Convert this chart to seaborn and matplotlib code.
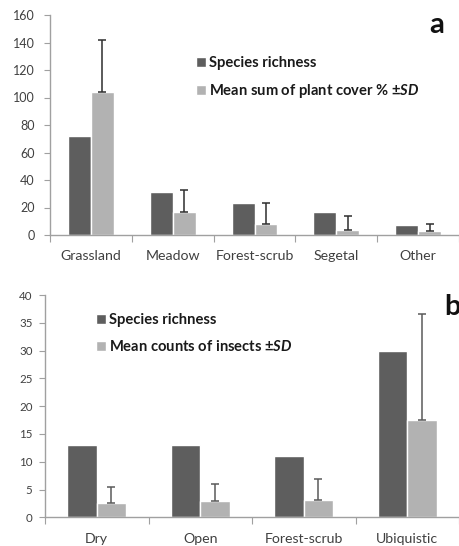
import numpy as np
import pandas as pd
import matplotlib
matplotlib.use("Agg")
import matplotlib.pyplot as plt
import seaborn as sns

# Panel a: plant community groups
cats_a = ["Grassland", "Meadow", "Forest-scrub", "Segetal", "Other"]
richness_a = [72, 31, 23, 17, 7]
cover_mean_a = [104, 17, 8, 4, 3]
cover_sd_a = [37.5, 15.5, 15, 10, 5]

# Panel b: insect habitat groups
cats_b = ["Dry", "Open", "Forest-scrub", "Ubiquistic"]
richness_b = [13, 13, 11, 30]
count_mean_b = [2.5, 2.9, 3.2, 17.5]
count_sd_b = [2.9, 3.1, 3.7, 19]

series_a = ["Species richness", "Mean sum of plant cover % ±$\\mathbfit{SD}$"]
series_b = ["Species richness", "Mean counts of insects ±$\\mathbfit{SD}$"]

sns.set_style("white")
FONT = "Lato"
plt.rcParams["font.family"] = [FONT, "DejaVu Sans"]
plt.rcParams["mathtext.fontset"] = "custom"
plt.rcParams["mathtext.bfit"] = f"{FONT}:bold:italic"
plt.rcParams["mathtext.rm"] = FONT

DARK = "#5e5e5e"
LIGHT = "#b2b2b2"
AXC = "#a0a0a0"
TXT = "#404040"

fig = plt.figure(figsize=(4.59, 5.46), dpi=100)
ax_a = fig.add_axes([50 / 459, 1 - 235 / 546, 1 - 50 / 459, (235 - 15) / 546])
ax_b = fig.add_axes([45 / 459, 1 - 517.3 / 546, 1 - 45 / 459, (517.3 - 295) / 546])


def draw_panel(ax, cats, rich, mean, sd, names, ymax, ystep, width, ecolor,
               ytick_size, ytick_pad, leg_anchor, letter, letter_xy):
    df = pd.DataFrame({
        "group": cats * 2,
        "series": [names[0]] * len(cats) + [names[1]] * len(cats),
        "value": list(rich) + list(mean),
    })
    sns.barplot(data=df, x="group", y="value", hue="series",
                palette=[DARK, LIGHT], width=width, errorbar=None,
                saturation=1, ax=ax, legend=True)
    # upward SD whiskers on the second series
    light_bars = ax.patches[len(cats):2 * len(cats)]
    for bar, m, s in zip(light_bars, mean, sd):
        xc = bar.get_x() + bar.get_width() / 2
        ax.errorbar(xc, m, yerr=[[0], [s]], fmt="none", ecolor=ecolor,
                    elinewidth=1.1, capsize=2.8, capthick=1.1, zorder=3)
    ax.set_ylim(0, ymax)
    ax.set_xlim(-0.5, len(cats) - 0.5)
    ax.set_yticks(np.arange(0, ymax + 0.1, ystep))
    ax.set_xticks(np.arange(len(cats)))
    ax.set_xticks(np.arange(-0.5, len(cats), 1), minor=True)
    ax.set_xlabel("")
    ax.set_ylabel("")
    for side in ("top", "right"):
        ax.spines[side].set_visible(False)
    for side in ("left", "bottom"):
        ax.spines[side].set_color(AXC)
        ax.spines[side].set_linewidth(1.0)
    ax.tick_params(axis="y", direction="out", length=4, width=0.8, color=AXC,
                   labelsize=ytick_size, labelcolor=TXT, pad=ytick_pad,
                   left=True)
    ax.tick_params(axis="x", which="major", length=0, labelsize=10.2,
                   labelcolor=TXT, pad=11)
    ax.tick_params(axis="x", which="minor", direction="out", length=5,
                   width=0.8, color=AXC, bottom=True)
    handles, labels = ax.get_legend_handles_labels()
    ax.legend(handles, labels, loc="upper left", bbox_to_anchor=leg_anchor,
              frameon=False, handlelength=0.7, handleheight=0.7,
              handletextpad=0.2, labelspacing=0.85,
              prop={"family": FONT, "weight": "bold", "size": 10.6},
              labelcolor="#1a1a1a", borderaxespad=0)
    fig.text(letter_xy[0], letter_xy[1], letter, fontsize=21,
             fontweight="bold", ha="left", va="top", color="#111111",
             family=FONT)


draw_panel(ax_a, cats_a, richness_a, cover_mean_a, cover_sd_a, series_a,
           160, 20, 0.56, "#2e2e2e", 9, 7,
           ((190 - 50) / 409, (235 - 50) / 220),
           "a", (429 / 459, 1 - 12 / 546))
draw_panel(ax_b, cats_b, richness_b, count_mean_b, count_sd_b, series_b,
           40, 5, 0.57, "#5a5a5a", 8.3, 5,
           ((90 - 45) / 414, (517.3 - 307) / 222.3),
           "b", (444 / 459, 1 - 294 / 546))

fig.savefig("out.png", dpi=100, facecolor="white")
